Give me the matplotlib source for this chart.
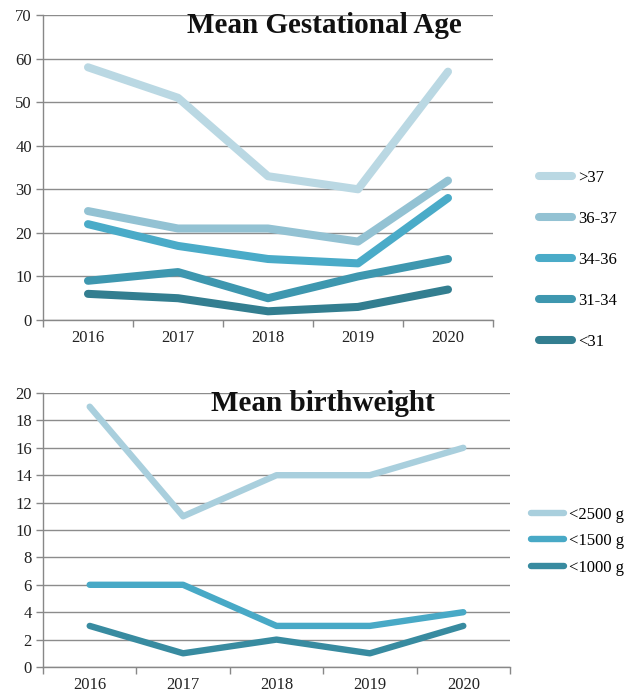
import matplotlib
matplotlib.use("Agg")
import matplotlib.pyplot as plt
from matplotlib.ticker import FixedLocator, NullFormatter

years = ["2016", "2017", "2018", "2019", "2020"]

ga_labels = [">37", "36-37", "34-36", "31-34", "<31"]
ga_gt37 = [58, 51, 33, 30, 57]
ga_36_37 = [25, 21, 21, 18, 32]
ga_34_36 = [22, 17, 14, 13, 28]
ga_31_34 = [9, 11, 5, 10, 14]
ga_lt31 = [6, 5, 2, 3, 7]
ga_colors = ["#bad8e3", "#93c2d3", "#4aabc8", "#3e97af", "#337e90"]

bw_labels = ["<2500 grams", "<1500 grams", "<1000 grams"]
bw_lt2500 = [19, 11, 14, 14, 16]
bw_lt1500 = [6, 6, 3, 3, 4]
bw_lt1000 = [3, 1, 2, 1, 3]
bw_colors = ["#a9cfdd", "#48a9c6", "#388ba0"]

SERIF = ["Liberation Serif", "DejaVu Serif"]
plt.rcParams["font.family"] = SERIF

W, H = 624, 693
fig = plt.figure(figsize=(W / 100, H / 100), dpi=100)

def setup(ax, ymax, ystep, xpad):
    n = len(years)
    x = list(range(n))
    ax.set_xlim(-0.5, n - 0.5)
    ax.set_ylim(0, ymax)
    ax.set_yticks(range(0, ymax + 1, ystep))
    ax.set_xticks(x)
    ax.set_xticklabels(years)
    ax.xaxis.set_minor_locator(FixedLocator([i - 0.5 for i in range(n + 1)]))
    ax.xaxis.set_minor_formatter(NullFormatter())
    ax.tick_params(axis="x", which="major", length=0, pad=xpad, labelsize=12, colors="#222222")
    ax.tick_params(axis="x", which="minor", length=5, width=1, color="#888888")
    ax.tick_params(axis="y", length=5, width=1, color="#888888", labelsize=12, labelcolor="#222222", pad=3)
    ax.grid(axis="y", color="#8c8c8c", linewidth=1)
    ax.set_axisbelow(True)
    for s in ["top", "right"]:
        ax.spines[s].set_visible(False)
    for s in ["left", "bottom"]:
        ax.spines[s].set_color("#888888")
        ax.spines[s].set_linewidth(1)
    return x

# Top chart
ax1 = fig.add_axes([43 / W, 1 - 320 / H, 450 / W, 305 / H])
x = setup(ax1, 70, 10, 7.5)
for vals, c, lab in zip([ga_gt37, ga_36_37, ga_34_36, ga_31_34, ga_lt31], ga_colors, ga_labels):
    ax1.plot(x, vals, color=c, lw=5.8, solid_capstyle="round", solid_joinstyle="round", label=lab, clip_on=False)
ax1.text(0.625, 0.965, "Mean Gestational Age", transform=ax1.transAxes, ha="center", va="center",
         fontsize=21, fontweight="bold", color="#111111")
leg1 = ax1.legend(loc="upper left", bbox_to_anchor=(539 / W, 1 - 170 / H), bbox_transform=fig.transFigure,
                  frameon=False, fontsize=12, handlelength=2.0, handletextpad=0.35, labelspacing=1.5,
                  borderpad=0, borderaxespad=0)

# Bottom chart
ax2 = fig.add_axes([43 / W, 1 - 667 / H, 467 / W, 274 / H])
x = setup(ax2, 20, 2, 7)
for vals, c, lab in zip([bw_lt2500, bw_lt1500, bw_lt1000], bw_colors, bw_labels):
    ax2.plot(x, vals, color=c, lw=4.6, solid_capstyle="round", solid_joinstyle="round", label=lab, clip_on=False)
ax2.text(0.6, 0.96, "Mean birthweight", transform=ax2.transAxes, ha="center", va="center",
         fontsize=21, fontweight="bold", color="#111111")
leg2 = ax2.legend(loc="upper left", bbox_to_anchor=(531 / W, 1 - 507 / H), bbox_transform=fig.transFigure,
                  frameon=False, fontsize=12, handlelength=2.0, handletextpad=0.3, labelspacing=0.62,
                  borderpad=0, borderaxespad=0)

fig.savefig("out.png", dpi=100)
